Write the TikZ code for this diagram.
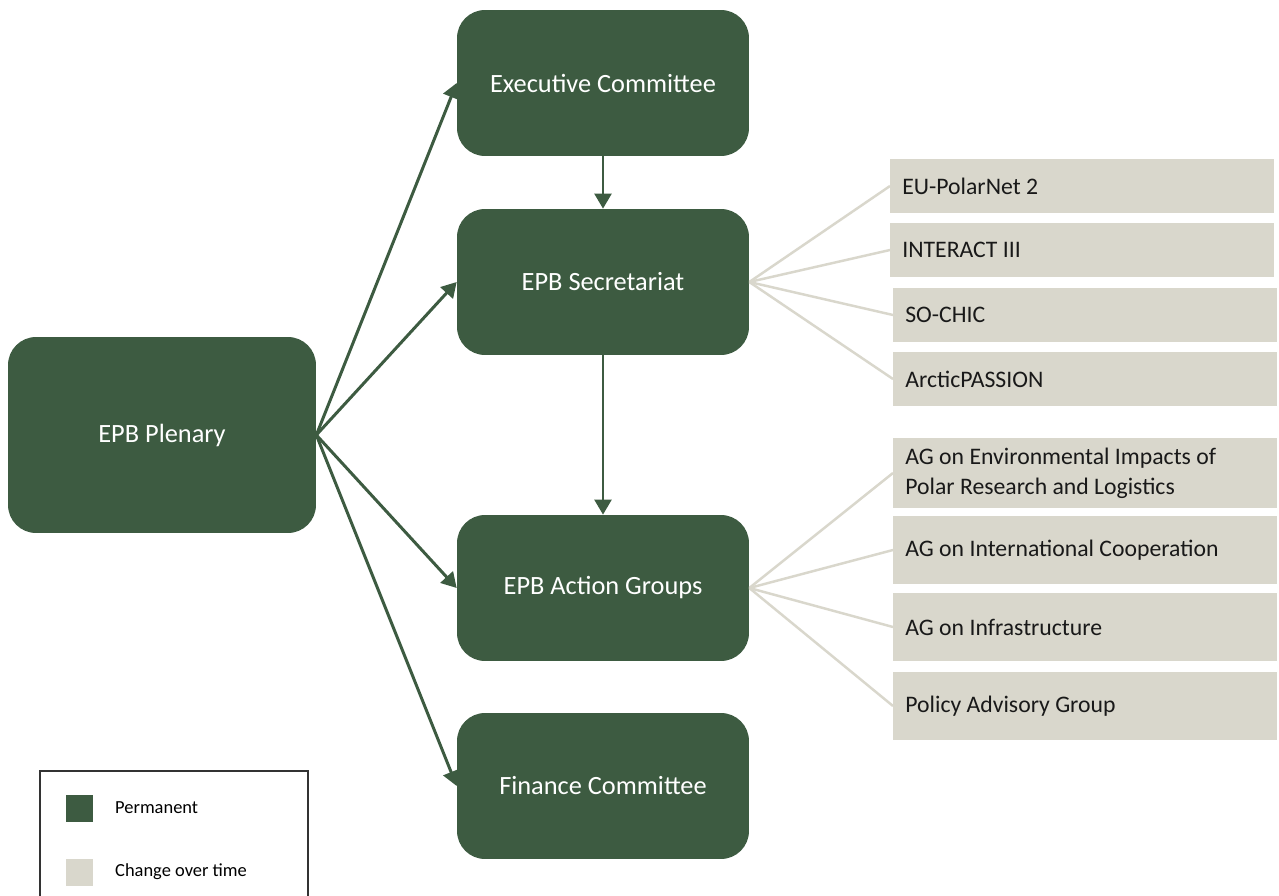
\documentclass[tikz,border=0pt]{standalone}
\usepackage{fontspec}
\setmainfont{Carlito}
\usetikzlibrary{arrows.meta}
\definecolor{epbgreen}{RGB}{61,91,65}
\definecolor{epbsand}{RGB}{217,215,204}
\newcommand\epbspaces{\spaceskip=0pt\relax\xspaceskip=0pt\relax}
\tikzset{
  perm/.style={fill=epbgreen, rounded corners=0.56cm, minimum width=5.84cm,
    minimum height=2.92cm, text=white, font=\fontsize{15}{18}\selectfont},
  temp/.style={fill=epbsand, anchor=west, minimum width=7.68cm, minimum height=1.1cm,
    text width=7.2cm, align=left, inner xsep=0.24cm,
    execute at begin node=\epbspaces,
    font=\fontsize{13.5}{17}\selectfont, text=black!90},
  link/.style={draw=epbgreen, line width=1.7pt, -{Triangle[width=9.5pt,length=8.5pt]}},
  spoke/.style={draw=epbsand, line width=1.4pt}
}
\begin{document}
\begin{tikzpicture}[x=0.02cm,y=-0.02cm]
\clip (0,0) rectangle (1279,896);
\fill[white] (0,0) rectangle (1279,896);
% permanent bodies
\node[perm, minimum width=6.16cm, minimum height=3.92cm] (plen) at (162,435) {EPB Plenary};
\node[perm] (exec) at (603,83) {Executive Committee};
\node[perm] (secr) at (603,282) {EPB Secretariat};
\node[perm] (actg) at (603,588) {EPB Action Groups};
\node[perm] (fin) at (603,786) {Finance Committee};
% projects
\node[temp] (eu) at (890,186) {EU-PolarNet 2};
\node[temp] (interact) at (890,250) {INTERACT III};
\node[temp] (sochic) at (893,315) {SO-CHIC};
\node[temp] (arctic) at (893,379) {ArcticPASSION};
% action groups
\node[temp, minimum height=1.4cm] (agenv) at (893,473) {AG on Environmental Impacts of\\Polar Research and Logistics};
\node[temp, minimum height=1.36cm] (agint) at (893,550) {AG on International Cooperation};
\node[temp, minimum height=1.36cm] (aginf) at (893,627) {AG on Infrastructure};
\node[temp, minimum height=1.36cm] (policy) at (893,706) {Policy Advisory Group};
% arrows
\draw[link] (plen.east) -- (exec.west);
\draw[link] (plen.east) -- (secr.west);
\draw[link] (plen.east) -- (actg.west);
\draw[link] (plen.east) -- (fin.west);
\draw[link] (exec.south) -- (secr.north);
\draw[link] (secr.south) -- (actg.north);
\foreach \p in {eu,interact,sochic,arctic}
  \draw[spoke] (secr.east) -- (\p.west);
\foreach \p in {agenv,agint,aginf,policy}
  \draw[spoke] (actg.east) -- (\p.west);
% legend
\draw[black!80, line width=0.6pt] (40,771) rectangle (308,920);
\fill[epbgreen] (66,795) rectangle (93,822);
\fill[epbsand] (66,859) rectangle (93,886);
\node[anchor=west, font=\fontsize{10.5}{13}\selectfont] (lgperm) at (109,808) {Permanent};
\node[anchor=west, font=\fontsize{10.5}{13}\selectfont] (lgtemp) at (109,872) {Change over time};
\end{tikzpicture}
\end{document}
